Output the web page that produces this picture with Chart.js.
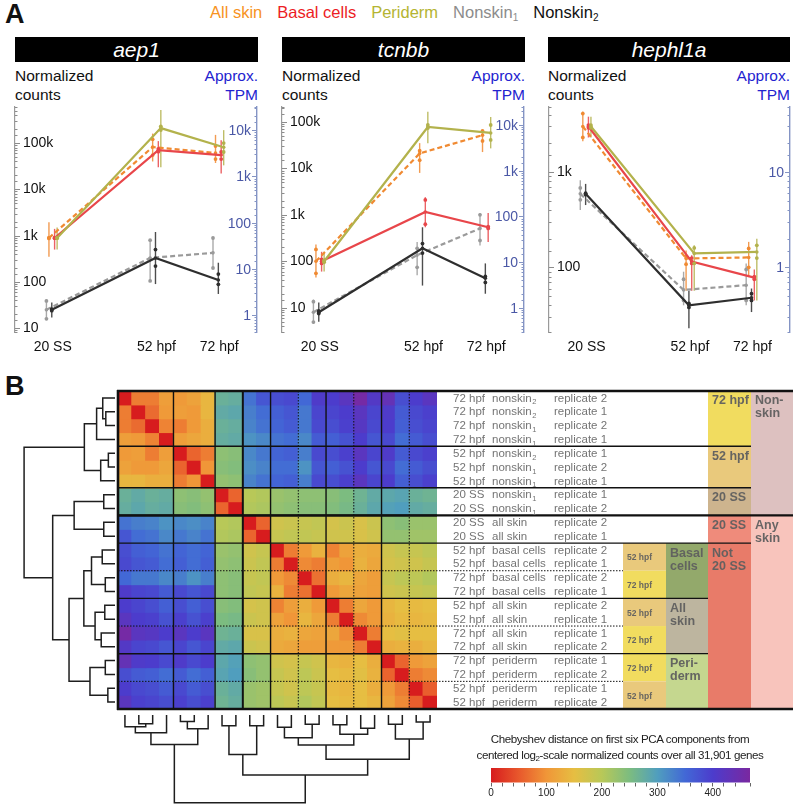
<!DOCTYPE html>
<html>
<head>
<meta charset="utf-8">
<script src="https://cdn.jsdelivr.net/npm/chart.js@4.4.1/dist/chart.umd.min.js"></script>
<style>
  html, body { margin: 0; padding: 0; background: #fff; }
  #page { position: relative; width: 795px; height: 805px; overflow: hidden; font-family: "Liberation Sans", Arial, sans-serif; color: #111; }
  #page canvas, #page .abs { position: absolute; }
  .panel { font-weight: bold; font-size: 27px; line-height: 27px; }
  #legend { left: 210px; top: 3px; display: flex; gap: 15px; font-size: 16.5px; white-space: nowrap; }
  #legend sub { font-size: 10px; vertical-align: -3px; }
  .gene { top: 37px; height: 25px; background: #000; color: #fff; font-style: italic; font-size: 21px; line-height: 25px; text-align: center; }
  .ylab { top: 66px; font-size: 15.5px; line-height: 19px; }
  .tpm { top: 66px; font-size: 15.5px; line-height: 19px; color: #2323cf; text-align: right; }
  #cbarTitle { left: 440px; width: 360px; top: 731px; text-align: center; font-size: 11.6px; letter-spacing: -0.4px; line-height: 16px; color: #222; }
  #cbarTitle sub { font-size: 8px; vertical-align: -2px; }
</style>
</head>
<body>
<div id="page">
  <div class="abs panel" style="left:5px; top:1px;">A</div>
  <div class="abs panel" style="left:5px; top:373px;">B</div>
  <div id="legend" class="abs">
    <span style="color:#f7931e">All skin</span>
    <span style="color:#ec1c24">Basal cells</span>
    <span style="color:#b4b432">Periderm</span>
    <span style="color:#8c8c8c">Nonskin<sub>1</sub></span>
    <span style="color:#111">Nonskin<sub>2</sub></span>
  </div>

  <div class="abs gene" style="left:15px; width:243px;">aep1</div>
  <div class="abs gene" style="left:282px; width:243px;">tcnbb</div>
  <div class="abs gene" style="left:548px; width:242px;">hephl1a</div>
  <div class="abs ylab" style="left:15px;">Normalized<br>counts</div>
  <div class="abs ylab" style="left:282px;">Normalized<br>counts</div>
  <div class="abs ylab" style="left:548px;">Normalized<br>counts</div>
  <div class="abs tpm" style="left:158px; width:100px;">Approx.<br>TPM</div>
  <div class="abs tpm" style="left:425px; width:100px;">Approx.<br>TPM</div>
  <div class="abs tpm" style="left:690px; width:100px;">Approx.<br>TPM</div>

  <canvas id="gene1" width="265" height="270" style="left:0px; top:90px;"></canvas>
  <canvas id="gene2" width="265" height="270" style="left:265px; top:90px;"></canvas>
  <canvas id="gene3" width="265" height="270" style="left:530px; top:90px;"></canvas>

  <canvas id="heat" width="795" height="340" style="left:0px; top:380px;"></canvas>
  <canvas id="dendL" width="118" height="340" style="left:0px; top:380px;"></canvas>
  <canvas id="dendB" width="795" height="96" style="left:0px; top:709px;"></canvas>

  <div id="cbarTitle" class="abs">Chebyshev distance on first six PCA components from<br>centered log<sub>2</sub>-scale normalized counts over all 31,901 genes</div>
  <canvas id="cbar" width="310" height="45" style="left:470px; top:758px;"></canvas>
</div>

<script>
// ---------- panel A data ----------
const timesHpf = [19, 52, 72];            // 20 SS ~ 19 hpf
const timeLabels = ['20 SS', '52 hpf', '72 hpf'];
const seriesNames = ['All skin', 'Basal cells', 'Periderm', 'Nonskin1', 'Nonskin2'];

// rows: all skin, basal cells, periderm, nonskin1, nonskin2
const aep1Mean = [[890, 82000, 61000], [890, 70000, 55000], [890, 210000, 81000], [25, 330, 425], [25, 330, 110]];
const aep1Lo   = [[350, 40000, 37000], [500, 30000, 22000], [500, 30000, 33000], [15, 100, 190], [17, 90, 55]];
const aep1Hi   = [[1950, 160000, 150000], [1400, 110000, 115000], [1500, 520000, 190000], [42, 850, 950], [36, 1200, 260]];
const aep1Rep1 = [[870, 120000, 86000], [900, 75000, 64000], [880, 230000, 100000], [39, 800, 890], [24, 500, 148]];
const aep1Rep2 = [[910, 55000, 45000], [880, 65000, 45000], [900, 190000, 64000], [16, 105, 200], [26, 220, 89]];

const tcnbbMean = [[100, 21000, 52000], [100, 1150, 540], [100, 78000, 58000], [8, 136, 510], [8, 190, 43]];
const tcnbbLo   = [[45, 8000, 22500], [60, 540, 260], [60, 35000, 27000], [4.5, 50, 220], [5, 30, 20]];
const tcnbbHi   = [[230, 35000, 67000], [160, 2400, 1100], [160, 165000, 128000], [15, 260, 1100], [13, 540, 90]];
const tcnbbRep1 = [[180, 24000, 64000], [110, 2100, 560], [105, 86000, 86000], [13.5, 190, 1000], [8.5, 240, 47]];
const tcnbbRep2 = [[55, 15000, 39000], [90, 630, 510], [95, 74000, 41000], [4.9, 74, 280], [7.5, 150, 35]];

const hephMean = [[3000, 124, 127], [3000, 115, 78], [3000, 140, 145], [590, 58, 65], [590, 40, 48]];
const hephLo   = [[2100, 57, 79], [2300, 57, 45], [2300, 57, 45], [400, 40, 40], [450, 23, 34]];
const hephHi   = [[4300, 150, 185], [3800, 134, 95], [3800, 170, 200], [820, 90, 110], [750, 57, 60]];
const hephRep1 = [[4100, 130, 158], [3100, 125, 80], [3100, 160, 170], [680, 75, 95], [600, 42, 53]];
const hephRep2 = [[2300, 108, 100], [2900, 110, 75], [2900, 110, 125], [510, 45, 45], [580, 38, 45]];

// counts per approx. TPM for each gene (right axis)
const tpmRatio = [19, 8.6, 100];

// ---------- panel B data ----------
const sampleTimes = ['72 hpf', '72 hpf', '72 hpf', '72 hpf', '52 hpf', '52 hpf', '52 hpf', '20 SS', '20 SS', '20 SS', '20 SS',
  '52 hpf', '52 hpf', '72 hpf', '72 hpf', '52 hpf', '52 hpf', '72 hpf', '72 hpf', '72 hpf', '72 hpf', '52 hpf', '52 hpf'];
const sampleTypes = ['nonskin|2', 'nonskin|2', 'nonskin|1', 'nonskin|1', 'nonskin|2', 'nonskin|1', 'nonskin|1', 'nonskin|1', 'nonskin|1',
  'all skin', 'all skin', 'basal cells', 'basal cells', 'basal cells', 'basal cells', 'all skin', 'all skin', 'all skin', 'all skin',
  'periderm', 'periderm', 'periderm', 'periderm'];
const sampleReps = ['replicate 2', 'replicate 1', 'replicate 2', 'replicate 1', 'replicate 1', 'replicate 2', 'replicate 1', 'replicate 1',
  'replicate 2', 'replicate 2', 'replicate 1', 'replicate 2', 'replicate 1', 'replicate 2', 'replicate 1', 'replicate 2', 'replicate 1',
  'replicate 1', 'replicate 2', 'replicate 1', 'replicate 2', 'replicate 1', 'replicate 2'];

// lower triangle of the distance matrix (row i, columns 0..i-1)
const distLower = [
  [],
  [80],
  [80, 65],
  [110, 105, 85],
  [105, 110, 80, 110],
  [115, 105, 105, 120, 60],
  [140, 140, 130, 130, 80, 100],
  [270, 280, 270, 275, 235, 240, 230],
  [275, 285, 275, 280, 240, 245, 235, 60],
  [340, 330, 325, 310, 320, 315, 325, 200, 205],
  [370, 345, 340, 320, 335, 325, 340, 205, 210, 60],
  [380, 360, 355, 340, 355, 345, 355, 225, 230, 175, 185],
  [385, 370, 365, 345, 360, 345, 360, 230, 235, 180, 190, 80],
  [350, 335, 335, 320, 330, 310, 330, 235, 240, 185, 190, 105, 90],
  [405, 390, 385, 365, 385, 370, 385, 235, 240, 190, 185, 135, 80, 70],
  [400, 390, 380, 360, 380, 360, 380, 240, 245, 170, 175, 85, 110, 130, 105],
  [420, 400, 395, 375, 395, 375, 395, 250, 255, 180, 175, 115, 100, 140, 120, 80],
  [460, 420, 415, 400, 420, 400, 420, 265, 270, 165, 165, 130, 135, 120, 115, 120, 90],
  [410, 390, 385, 370, 390, 370, 390, 280, 285, 180, 175, 125, 120, 110, 110, 105, 105, 80],
  [435, 405, 400, 385, 405, 385, 400, 285, 295, 235, 230, 175, 170, 185, 175, 140, 135, 150, 130],
  [380, 365, 360, 345, 365, 345, 360, 290, 300, 240, 230, 185, 175, 195, 180, 150, 145, 155, 135, 60],
  [400, 385, 380, 365, 385, 365, 380, 270, 280, 225, 220, 185, 175, 195, 185, 145, 140, 150, 130, 105, 80],
  [420, 395, 390, 380, 395, 380, 395, 265, 275, 225, 220, 195, 185, 205, 190, 150, 145, 150, 140, 115, 90, 55]
];

// hierarchical clustering: merge k joins mergeA[k] and mergeB[k] at mergeH[k]; ids >= 23 are earlier merges (23 + k)
const mergeA = [1, 0, 24, 4, 26, 25, 7, 9, 29, 11, 13, 32, 15, 17, 35, 34, 19, 21, 39, 38, 31, 28];
const mergeB = [2, 23, 3, 5, 6, 27, 8, 10, 30, 12, 14, 33, 16, 18, 36, 37, 20, 22, 40, 41, 42, 43];
const mergeH = [9, 12, 18, 6.5, 14, 30, 11, 11, 40, 12.5, 9.5, 23, 10, 13.5, 19.5, 30.5, 9.5, 7, 24.5, 45, 61, 89];

const cbarTicks = [0, 100, 200, 300, 400];
const cbarMax = 467;

// ---------- styles ----------
const seriesColors = ['#f08a32', '#e8464a', '#b3b24c', '#9a9a9a', '#2e2e2e'];
const seriesDash = [[5, 3], [], [], [5, 3], []];
const seriesShift = [-1.2, 0.6, 1.4, -2.0, -0.3];
const seriesOrder = [3, 2, 1, 5, 4];
const cmapStops = [
  [0, [215, 28, 30]], [50, [232, 88, 44]], [100, [240, 150, 56]], [150, [230, 190, 66]],
  [200, [184, 200, 88]], [250, [124, 188, 128]], [300, [80, 158, 190]], [350, [66, 104, 214]],
  [400, [76, 60, 204]], [467, [122, 40, 160]]
];

Chart.defaults.font.family = '"Liberation Sans", Arial, sans-serif';
Chart.defaults.color = '#111';

function isPow10(v) {
  const l = Math.log10(v);
  return Math.abs(l - Math.round(l)) < 1e-9;
}
function fmtTick(v) {
  if (!isPow10(v)) return '';
  const e = Math.round(Math.log10(v));
  return e >= 3 ? Math.pow(10, e - 3) + 'k' : String(Math.pow(10, e));
}
function cmap(v) {
  for (let i = 1; i < cmapStops.length; i++) {
    const [v0, c0] = cmapStops[i - 1], [v1, c1] = cmapStops[i];
    if (v <= v1 || i === cmapStops.length - 1) {
      const t = Math.max(0, Math.min(1, (v - v0) / (v1 - v0)));
      const c = c0.map((a, k) => Math.round(a + (c1[k] - a) * t));
      return `rgb(${c[0]},${c[1]},${c[2]})`;
    }
  }
}

// ---------- panel A charts ----------
function geneChart(id, mean, lo, hi, rep1, rep2, yMin, yMax, ratio, pad) {
  const datasets = [];
  mean.forEach((row, s) => {
    datasets.push({
      type: 'line', label: seriesNames[s], order: seriesOrder[s],
      data: row.map((v, i) => ({ x: timesHpf[i] + seriesShift[s], y: v })),
      borderColor: seriesColors[s], backgroundColor: seriesColors[s], borderWidth: 2.2,
      borderDash: seriesDash[s], pointRadius: 1.8, pointBorderWidth: 0, tension: 0
    });
    const reps = [];
    row.forEach((v, i) => {
      reps.push({ x: timesHpf[i] + seriesShift[s], y: rep1[s][i] });
      reps.push({ x: timesHpf[i] + seriesShift[s], y: rep2[s][i] });
    });
    datasets.push({
      type: 'scatter', order: seriesOrder[s], data: reps,
      backgroundColor: seriesColors[s], pointRadius: 1.9, pointBorderWidth: 0
    });
  });

  const errorBars = {
    id: 'errorBars',
    beforeDatasetsDraw(chart) {
      const { ctx, chartArea, scales: { x, y } } = chart;
      ctx.save();
      ctx.beginPath();
      ctx.rect(chartArea.left, chartArea.top, chartArea.right - chartArea.left, chartArea.bottom - chartArea.top);
      ctx.clip();
      ctx.lineWidth = 1.4;
      ctx.globalAlpha = 0.85;
      mean.forEach((row, s) => {
        ctx.strokeStyle = seriesColors[s];
        row.forEach((v, i) => {
          const px = x.getPixelForValue(timesHpf[i] + seriesShift[s]);
          ctx.beginPath();
          ctx.moveTo(px, y.getPixelForValue(lo[s][i]));
          ctx.lineTo(px, y.getPixelForValue(hi[s][i]));
          ctx.stroke();
        });
      });
      ctx.restore();
    }
  };
  // tick marks pointing into the plot, plus the TPM labels inside the right axis
  const innerTicks = {
    id: 'innerTicks',
    afterDraw(chart) {
      const { ctx, chartArea } = chart;
      ctx.save();
      ctx.lineWidth = 1;
      [['y', chartArea.left, 1, '#8c8c8c'], ['y2', chartArea.right, -1, '#8494c4']].forEach(([key, x0, dir, col]) => {
        const sc = chart.scales[key];
        ctx.strokeStyle = col;
        sc.ticks.forEach(t => {
          const py = Math.round(sc.getPixelForValue(t.value)) + 0.5;
          if (py < chartArea.top - 0.5 || py > chartArea.bottom + 0.5) return;
          ctx.beginPath();
          ctx.moveTo(x0, py);
          ctx.lineTo(x0 + dir * (isPow10(t.value) ? 5 : 2.5), py);
          ctx.stroke();
          if (key === 'y2' && isPow10(t.value)) {
            ctx.fillStyle = '#4a58a6';
            ctx.font = '14px "Liberation Sans", Arial, sans-serif';
            ctx.textAlign = 'right';
            ctx.textBaseline = 'middle';
            ctx.fillText(fmtTick(t.value), x0 - 6, py + 0.5);
          }
        });
      });
      ctx.restore();
    }
  };

  return new Chart(document.getElementById(id), {
    data: { datasets },
    options: {
      responsive: false, animation: false, devicePixelRatio: 1, events: [],
      layout: { padding: pad },
      plugins: { legend: { display: false }, tooltip: { enabled: false } },
      scales: {
        x: {
          type: 'linear', min: 7, max: 84,
          afterBuildTicks: sc => { sc.ticks = timesHpf.map(v => ({ value: v })); },
          afterFit: sc => { sc.height = 28; },
          ticks: { callback: (v, i) => timeLabels[i], font: { size: 14 }, color: '#111', padding: 7, autoSkip: false, maxRotation: 0 },
          grid: { display: false, drawTicks: false }, border: { display: false }
        },
        y: {
          type: 'logarithmic', position: 'left', min: yMin, max: yMax,
          afterFit: sc => { sc.width = 0; },
          ticks: { mirror: true, padding: 8, callback: fmtTick, font: { size: 14 }, color: '#111', autoSkip: false },
          grid: { drawOnChartArea: false, drawTicks: false },
          border: { color: '#9a9a9a', width: 1.2 }
        },
        y2: {
          type: 'logarithmic', position: 'right', min: yMin / ratio, max: yMax / ratio,
          afterFit: sc => { sc.width = 0; },
          ticks: { display: false, autoSkip: false },
          grid: { drawOnChartArea: false, drawTicks: false },
          border: { color: '#8494c4', width: 1.4 }
        }
      }
    },
    plugins: [errorBars, innerTicks]
  });
}

geneChart('gene1', aep1Mean, aep1Lo, aep1Hi, aep1Rep1, aep1Rep2, 8.3, 600000, tpmRatio[0], { left: 15, right: 8, top: 17, bottom: 0 });
geneChart('gene2', tcnbbMean, tcnbbLo, tcnbbHi, tcnbbRep1, tcnbbRep2, 3, 210000, tpmRatio[1], { left: 17, right: 6, top: 17, bottom: 0 });
geneChart('gene3', hephMean, hephLo, hephHi, hephRep1, hephRep2, 21, 4800, tpmRatio[2], { left: 19, right: 5, top: 17, bottom: 0 });

// ---------- panel B: heatmap ----------
const nSamples = sampleTimes.length;
const distRows = [];
for (let i = 0; i < nSamples; i++) {
  distRows.push([]);
  for (let j = 0; j < nSamples; j++) {
    distRows[i].push(i === j ? 0 : (i > j ? distLower[i][j] : distLower[j][i]));
  }
}
const sampleIds = sampleTimes.map((t, i) => String(i));

const solidBreaks = [4, 7, 9, 11, 15, 19];
const dottedBreaks = [13, 17, 21];
const rowRules = [
  { row: 0, to: 793, w: 2.6 }, { row: 23, to: 793, w: 2.6 }, { row: 9, to: 793, w: 2.2 },
  { row: 4, to: 751, w: 1.4 }, { row: 7, to: 751, w: 1.4 }, { row: 11, to: 751, w: 1.4 },
  { row: 15, to: 708, w: 1.2 }, { row: 19, to: 708, w: 1.2 }
];
const annotBoxes = [
  { x0: 708, x1: 751, r0: 0, r1: 4, fill: '#f1dc5f', text: ['72 hpf'] },
  { x0: 708, x1: 751, r0: 4, r1: 7, fill: '#e9c97c', text: ['52 hpf'] },
  { x0: 708, x1: 751, r0: 7, r1: 9, fill: '#cdb48e', text: ['20 SS'] },
  { x0: 708, x1: 751, r0: 9, r1: 11, fill: '#ef8b7b', text: ['20 SS'] },
  { x0: 708, x1: 751, r0: 11, r1: 23, fill: '#e87b69', text: ['Not', '20 SS'] },
  { x0: 751, x1: 793, r0: 0, r1: 9, fill: '#ddc1c0', text: ['Non-', 'skin'] },
  { x0: 751, x1: 793, r0: 9, r1: 23, fill: '#f8c4bc', text: ['Any', 'skin'] },
  { x0: 666, x1: 708, r0: 11, r1: 15, fill: '#93a96b', text: ['Basal', 'cells'] },
  { x0: 666, x1: 708, r0: 15, r1: 19, fill: '#bdb59f', text: ['All', 'skin'] },
  { x0: 666, x1: 708, r0: 19, r1: 23, fill: '#c5d78f', text: ['Peri-', 'derm'] },
  { x0: 623, x1: 666, r0: 11, r1: 13, fill: '#e9c97c', text: ['52 hpf'], small: true },
  { x0: 623, x1: 666, r0: 13, r1: 15, fill: '#f1dc5f', text: ['72 hpf'], small: true },
  { x0: 623, x1: 666, r0: 15, r1: 17, fill: '#e9c97c', text: ['52 hpf'], small: true },
  { x0: 623, x1: 666, r0: 17, r1: 19, fill: '#f1dc5f', text: ['72 hpf'], small: true },
  { x0: 623, x1: 666, r0: 19, r1: 21, fill: '#f1dc5f', text: ['72 hpf'], small: true },
  { x0: 623, x1: 666, r0: 21, r1: 23, fill: '#e9c97c', text: ['52 hpf'], small: true }
];

const heatDecor = {
  id: 'heatDecor',
  afterDatasetsDraw(chart) {
    const { ctx, chartArea: a, scales: { x, y } } = chart;
    const colX = c => x.getPixelForValue(c - 0.5);
    ctx.save();
    ctx.strokeStyle = '#111';
    // block separators inside the heatmap
    solidBreaks.forEach(b => {
      ctx.lineWidth = b === 9 ? 2 : 1.4;
      ctx.beginPath(); ctx.moveTo(colX(b), a.top); ctx.lineTo(colX(b), a.bottom); ctx.stroke();
      ctx.beginPath(); ctx.moveTo(a.left, y.getPixelForValue(b)); ctx.lineTo(a.right, y.getPixelForValue(b)); ctx.stroke();
    });
    ctx.lineWidth = 1;
    ctx.setLineDash([1.5, 1.5]);
    dottedBreaks.forEach(b => {
      ctx.beginPath(); ctx.moveTo(colX(b), a.top); ctx.lineTo(colX(b), a.bottom); ctx.stroke();
      ctx.beginPath(); ctx.moveTo(a.left, y.getPixelForValue(b)); ctx.lineTo(623, y.getPixelForValue(b)); ctx.stroke();
    });
    ctx.setLineDash([]);
    ctx.lineWidth = 2.6;
    ctx.beginPath(); ctx.moveTo(a.left, a.top - 1); ctx.lineTo(a.left, a.bottom + 1); ctx.stroke();

    // annotation boxes
    annotBoxes.forEach(bx => {
      const y0 = y.getPixelForValue(bx.r0), y1 = y.getPixelForValue(bx.r1);
      ctx.fillStyle = bx.fill;
      ctx.fillRect(bx.x0, y0, bx.x1 - bx.x0, y1 - y0);
      ctx.fillStyle = 'rgba(95,95,95,0.95)';
      ctx.textBaseline = 'middle';
      ctx.textAlign = 'left';
      if (bx.small) {
        ctx.font = 'bold 8.5px "Liberation Sans", Arial, sans-serif';
        ctx.fillText(bx.text[0], bx.x0 + 4, (y0 + y1) / 2 + 1);
      } else {
        ctx.font = 'bold 12.5px "Liberation Sans", Arial, sans-serif';
        bx.text.forEach((t, k) => ctx.fillText(t, bx.x0 + 4, y0 + 10 + k * 13));
      }
    });

    // horizontal rules through the label area
    ctx.strokeStyle = '#111';
    rowRules.forEach(r => {
      const py = y.getPixelForValue(r.row);
      ctx.lineWidth = r.w;
      ctx.beginPath(); ctx.moveTo(r.row === 0 || r.row === 23 || r.row === 9 ? a.left - 1 : a.right, py); ctx.lineTo(r.to, py); ctx.stroke();
    });

    // sample labels
    ctx.fillStyle = '#747474';
    ctx.textBaseline = 'middle';
    ctx.textAlign = 'left';
    sampleTimes.forEach((t, i) => {
      const py = y.getPixelForValue(i + 0.5) + 0.5;
      ctx.font = '11.5px "Liberation Sans", Arial, sans-serif';
      ctx.fillText(t, 453, py);
      const [base, sub] = sampleTypes[i].split('|');
      ctx.fillText(base, 492, py);
      if (sub) {
        const w = ctx.measureText(base).width;
        ctx.font = '7.5px "Liberation Sans", Arial, sans-serif';
        ctx.fillText(sub, 492 + w + 0.5, py + 4);
        ctx.font = '11.5px "Liberation Sans", Arial, sans-serif';
      }
      ctx.fillText(sampleReps[i], 554, py);
    });
    ctx.restore();
  }
};

new Chart(document.getElementById('heat'), {
  type: 'bar',
  data: {
    labels: sampleIds,
    datasets: distRows.map((row, r) => ({
      data: sampleIds.map(() => [r, r + 1]),
      backgroundColor: row.map(cmap),
      borderWidth: 0, inflateAmount: 0.6,
      barPercentage: 1, categoryPercentage: 1, grouped: false
    }))
  },
  options: {
    responsive: false, animation: false, devicePixelRatio: 1, events: [],
    layout: { padding: { left: 118, right: 358, top: 11, bottom: 11 } },
    plugins: { legend: { display: false }, tooltip: { enabled: false } },
    scales: {
      x: { type: 'category', display: false, offset: true },
      y: { type: 'linear', min: 0, max: nSamples, reverse: true, display: false }
    }
  },
  plugins: [heatDecor]
});

// ---------- dendrograms ----------
// one small line dataset per merge (a bracket); the solid "dash" keeps Chart.js off its
// fast line path, which assumes x increases along the line
function dendroDatasets(flip) {
  const pos = [], ht = [], sets = [];
  for (let i = 0; i < nSamples; i++) { pos[i] = i + 0.5; ht[i] = 0; }
  mergeA.forEach((a, k) => {
    const b = mergeB[k], h = mergeH[k], id = nSamples + k;
    pos[id] = (pos[a] + pos[b]) / 2;
    ht[id] = h;
    const pts = [[ht[a], pos[a]], [h, pos[a]], [h, pos[b]], [ht[b], pos[b]]]
      .map(([hh, pp]) => (flip ? { x: pp, y: hh } : { x: hh, y: pp }));
    sets.push({
      data: pts, showLine: true, borderColor: '#1e1e1e', borderWidth: 1.5, pointRadius: 0,
      borderDash: [1000, 0], borderJoinStyle: 'miter', tension: 0
    });
  });
  return sets;
}
function dendroChart(id, flip, pad, hMax) {
  const posScale = { type: 'linear', min: 0, max: nSamples, reverse: !flip, display: false };
  const hScale = { type: 'linear', min: 0, max: hMax, reverse: true, display: false };
  return new Chart(document.getElementById(id), {
    type: 'scatter',
    data: { datasets: dendroDatasets(flip) },
    options: {
      responsive: false, animation: false, devicePixelRatio: 1, events: [],
      layout: { padding: pad },
      plugins: { legend: { display: false }, tooltip: { enabled: false } },
      scales: flip ? { x: posScale, y: hScale } : { x: hScale, y: posScale }
    }
  });
}
dendroChart('dendL', false, { left: 20, right: 3, top: 11, bottom: 11 }, 93);
dendroChart('dendB', true, { left: 118, right: 358, top: 6, bottom: 0 }, 91.4);

// ---------- colour bar ----------
const gradientBar = {
  id: 'gradientBar',
  beforeDatasetsDraw(chart) {
    const { ctx, chartArea: a, scales: { x } } = chart;
    const g = ctx.createLinearGradient(a.left, 0, a.right, 0);
    cmapStops.forEach(([v]) => {
      g.addColorStop((x.getPixelForValue(v) - a.left) / (a.right - a.left), cmap(v));
    });
    ctx.save();
    ctx.fillStyle = g;
    ctx.fillRect(a.left, a.top, a.right - a.left, a.bottom - a.top);
    ctx.restore();
  }
};
new Chart(document.getElementById('cbar'), {
  type: 'scatter',
  data: { datasets: [{ data: [] }] },
  options: {
    responsive: false, animation: false, devicePixelRatio: 1, events: [],
    layout: { padding: { left: 21, right: 30, top: 10, bottom: 6 } },
    plugins: { legend: { display: false }, tooltip: { enabled: false } },
    scales: {
      x: {
        type: 'linear', min: 0, max: cbarMax,
        ticks: { stepSize: 20, autoSkip: false, maxRotation: 0, padding: 1, font: { size: 10 }, color: '#222',
          callback: v => (cbarTicks.includes(v) ? String(v) : '') },
        grid: { drawOnChartArea: false, drawTicks: true, tickLength: 4, color: '#666' },
        border: { display: false }
      },
      y: { min: 0, max: 1, display: false }
    }
  },
  plugins: [gradientBar]
});
</script>
</body>
</html>
